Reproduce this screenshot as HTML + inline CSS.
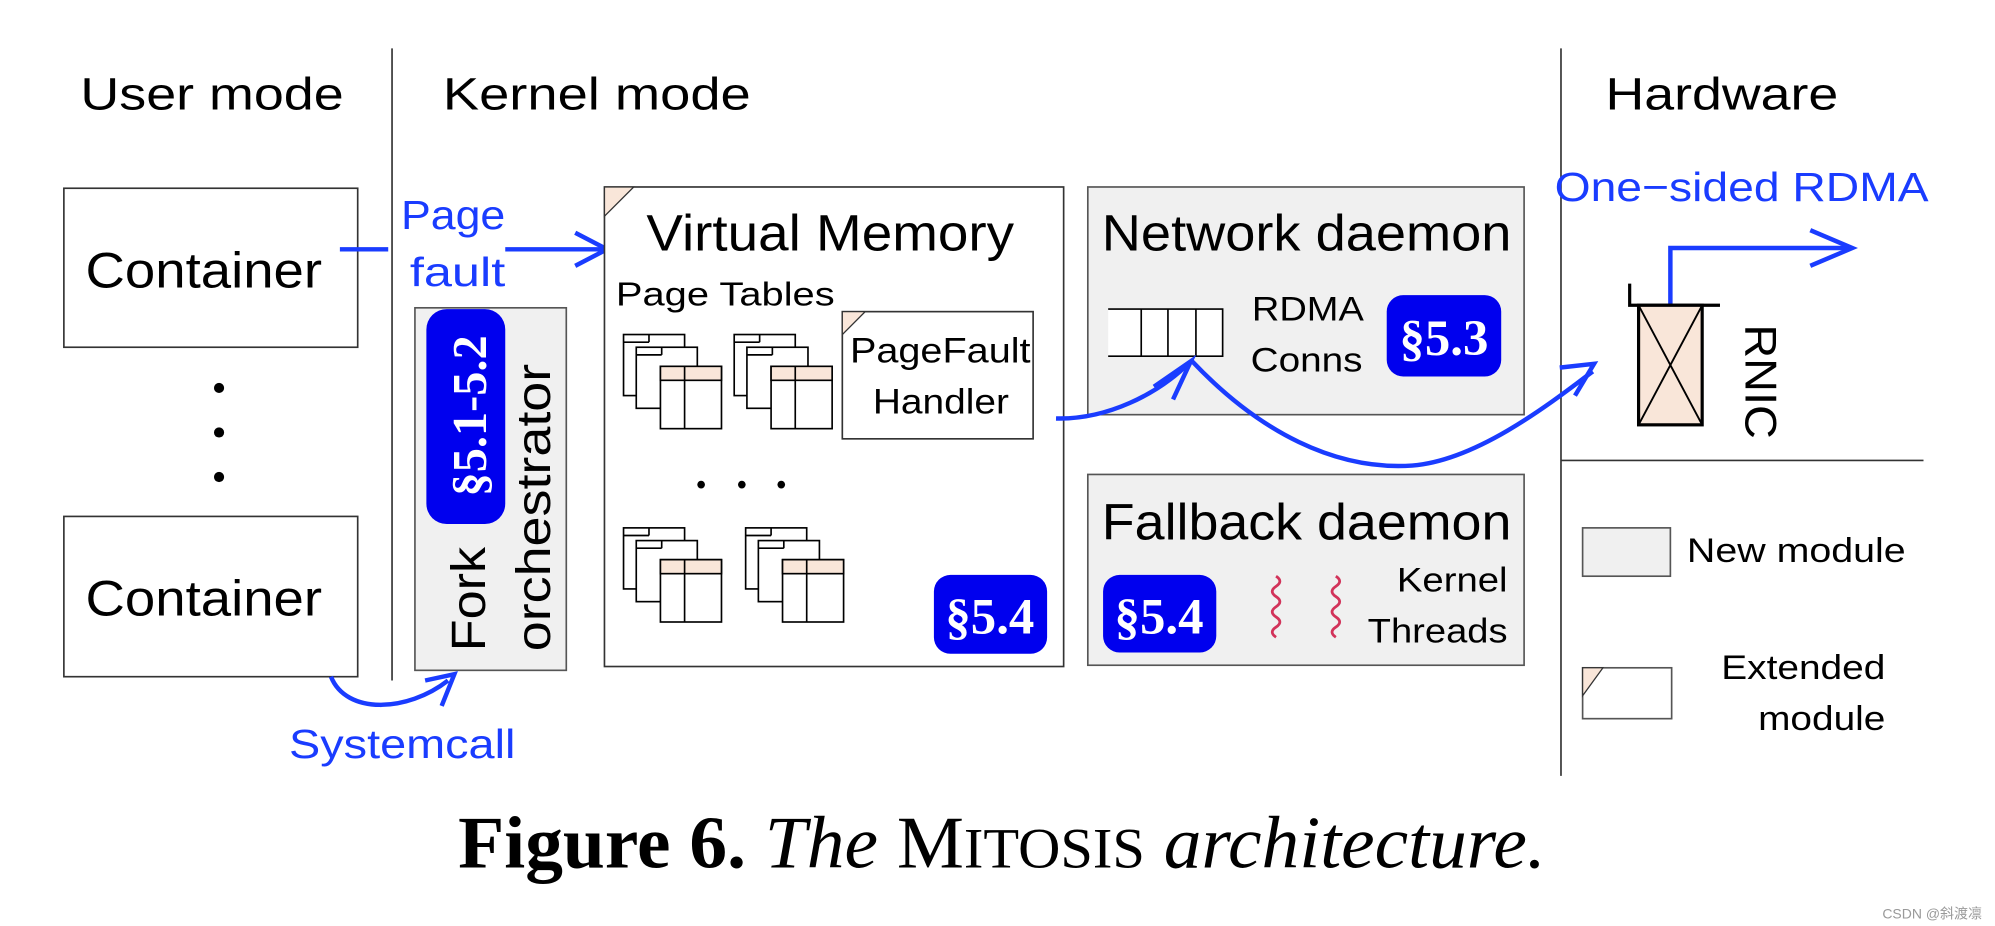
<!DOCTYPE html>
<html><head><meta charset="utf-8"><style>
html,body{margin:0;padding:0;background:#fff;width:1995px;height:926px;overflow:hidden}
svg{display:block}
text{font-family:"Liberation Sans",sans-serif}
.s{font-family:"Liberation Serif",serif;font-weight:bold;fill:#fff}
</style></head><body>
<svg width="1995" height="926" viewBox="0 0 1568 728" xmlns="http://www.w3.org/2000/svg">
<defs>
<g id="pt">
<rect x="0" y="0" width="48" height="48" fill="#fff" stroke="#000" stroke-width="1.3"/>
<line x1="0" y1="6" x2="20" y2="6" stroke="#000" stroke-width="1.3"/><line x1="20" y1="0" x2="20" y2="6" stroke="#000" stroke-width="1.3"/>
<rect x="10" y="10" width="48" height="48" fill="#fff" stroke="#000" stroke-width="1.3"/>
<line x1="10" y1="16" x2="30" y2="16" stroke="#000" stroke-width="1.3"/><line x1="30" y1="10" x2="30" y2="16" stroke="#000" stroke-width="1.3"/>
<rect x="29" y="25" width="48" height="49" fill="#fff" stroke="#000" stroke-width="1.3"/>
<rect x="29" y="25" width="48" height="11" fill="#f9e6d9" stroke="#000" stroke-width="1.3"/>
<line x1="48" y1="25" x2="48" y2="74" stroke="#000" stroke-width="1.3"/>
</g>
</defs>
<line x1="308" y1="38" x2="308" y2="535" stroke="#333" stroke-width="1.3"/>
<line x1="1227" y1="38" x2="1227" y2="610" stroke="#333" stroke-width="1.3"/>
<line x1="1227" y1="362" x2="1512" y2="362" stroke="#333" stroke-width="1.3"/>
<text x="63" y="86" font-size="36" textLength="207" lengthAdjust="spacingAndGlyphs">User mode</text>
<text x="348" y="86" font-size="36" textLength="242" lengthAdjust="spacingAndGlyphs">Kernel mode</text>
<text x="1262" y="86" font-size="36" textLength="183" lengthAdjust="spacingAndGlyphs">Hardware</text>
<rect x="50" y="148" width="231" height="125" fill="#fff" stroke="#333" stroke-width="1.3"/>
<rect x="50" y="406" width="231" height="126" fill="#fff" stroke="#333" stroke-width="1.3"/>
<text x="67" y="226" font-size="39" textLength="186" lengthAdjust="spacingAndGlyphs">Container</text>
<text x="67" y="484" font-size="39" textLength="186" lengthAdjust="spacingAndGlyphs">Container</text>
<circle cx="172" cy="305" r="4"/><circle cx="172" cy="340" r="4"/><circle cx="172" cy="375" r="4"/>
<text x="315" y="180" font-size="32" fill="#1a3cff" textLength="82" lengthAdjust="spacingAndGlyphs">Page</text>
<text x="322" y="225" font-size="32" fill="#1a3cff" textLength="75" lengthAdjust="spacingAndGlyphs">fault</text>
<line x1="267" y1="196" x2="305" y2="196" stroke="#1a3cff" stroke-width="3.5"/>
<line x1="397" y1="196" x2="476" y2="196" stroke="#1a3cff" stroke-width="3.5"/>
<polyline points="452,183 477,196 452,209" fill="none" stroke="#1a3cff" stroke-width="3.5"/>
<rect x="326" y="242" width="119" height="285" fill="#f0f0f0" stroke="#555" stroke-width="1.3"/>
<rect x="335" y="243" width="62" height="169" rx="16" fill="#0000ee"/>
<text class="s" font-size="38" transform="translate(382,327) rotate(-90)" text-anchor="middle">§5.1-5.2</text>
<text font-size="38" transform="translate(381,512) rotate(-90)" textLength="82" lengthAdjust="spacingAndGlyphs">Fork</text>
<text font-size="38" transform="translate(432,512) rotate(-90)" textLength="226" lengthAdjust="spacingAndGlyphs">orchestrator</text>
<path d="M260,532 C272,562 320,560 352,535" fill="none" stroke="#1a3cff" stroke-width="3.5"/>
<polyline points="334,535 357,530 347,555" fill="none" stroke="#1a3cff" stroke-width="3.5"/>
<text x="227" y="596" font-size="32" fill="#1a3cff" textLength="178" lengthAdjust="spacingAndGlyphs">Systemcall</text>
<rect x="475" y="147" width="361" height="377" fill="#fff" stroke="#333" stroke-width="1.3"/>
<polygon points="475,147 498,147 475,170" fill="#f9e6d9" stroke="#333" stroke-width="1"/>
<text x="508" y="197" font-size="40" textLength="289" lengthAdjust="spacingAndGlyphs">Virtual Memory</text>
<text x="484" y="240" font-size="26" textLength="172" lengthAdjust="spacingAndGlyphs">Page Tables</text>
<use href="#pt" x="490" y="263"/>
<use href="#pt" x="577" y="263"/>
<use href="#pt" x="490" y="415"/>
<use href="#pt" x="586" y="415"/>
<circle cx="551" cy="381" r="3"/><circle cx="583" cy="381" r="3"/><circle cx="614" cy="381" r="3"/>
<rect x="662" y="245" width="150" height="100" fill="#fff" stroke="#333" stroke-width="1.3"/>
<polygon points="662,245 680,245 662,263" fill="#f9e6d9" stroke="#333" stroke-width="1"/>
<text x="668" y="285" font-size="28" textLength="142" lengthAdjust="spacingAndGlyphs">PageFault</text>
<text x="686" y="325" font-size="28" textLength="107" lengthAdjust="spacingAndGlyphs">Handler</text>
<rect x="734" y="452" width="89" height="62" rx="13" fill="#0000ee"/>
<text class="s" x="778" y="498" font-size="40" text-anchor="middle">§5.4</text>
<rect x="855" y="147" width="343" height="179" fill="#f0f0f0" stroke="#555" stroke-width="1.3"/>
<text x="866" y="197" font-size="40" textLength="322" lengthAdjust="spacingAndGlyphs">Network daemon</text>
<rect x="871" y="243" width="90" height="37" fill="#fff"/>
<path d="M871,243 H961 V280 H871 M897,243 V280 M918,243 V280 M940,243 V280" fill="none" stroke="#000" stroke-width="1.3"/>
<text x="984" y="252" font-size="27" textLength="88" lengthAdjust="spacingAndGlyphs">RDMA</text>
<text x="983" y="292" font-size="27" textLength="88" lengthAdjust="spacingAndGlyphs">Conns</text>
<rect x="1090" y="232" width="90" height="64" rx="13" fill="#0000ee"/>
<text class="s" x="1135" y="279" font-size="40" text-anchor="middle">§5.3</text>
<rect x="855" y="373" width="343" height="150" fill="#f0f0f0" stroke="#555" stroke-width="1.3"/>
<text x="866" y="424" font-size="40" textLength="322" lengthAdjust="spacingAndGlyphs">Fallback daemon</text>
<rect x="867" y="452" width="89" height="61" rx="13" fill="#0000ee"/>
<text class="s" x="911" y="498" font-size="40" text-anchor="middle">§5.4</text>
<path d="M1003,453 q6,4 0,8 q-6,4 0,8 q6,4 0,8 q-6,4 0,8 q6,4 0,8 q-6,4 0,8" fill="none" stroke="#d2335a" stroke-width="2.2"/>
<path d="M1050,453 q6,4 0,8 q-6,4 0,8 q6,4 0,8 q-6,4 0,8 q6,4 0,8 q-6,4 0,8" fill="none" stroke="#d2335a" stroke-width="2.2"/>
<text x="1098" y="465" font-size="27" textLength="87" lengthAdjust="spacingAndGlyphs">Kernel</text>
<text x="1075" y="505" font-size="27" textLength="110" lengthAdjust="spacingAndGlyphs">Threads</text>
<path d="M830,329 C870,330 910,310 935,285" fill="none" stroke="#1a3cff" stroke-width="3.5"/>
<polyline points="907,304 936,284 922,314" fill="none" stroke="#1a3cff" stroke-width="3.5"/>
<path d="M937,284 C990,340 1050,370 1110,366 C1160,362 1215,320 1252,292" fill="none" stroke="#1a3cff" stroke-width="3.5"/>
<polyline points="1226,289 1253,286 1238,311" fill="none" stroke="#1a3cff" stroke-width="3.5"/>
<text x="1222" y="158" font-size="32" fill="#1a3cff" textLength="294" lengthAdjust="spacingAndGlyphs">One−sided RDMA</text>
<polyline points="1313,240 1313,195 1455,195" fill="none" stroke="#1a3cff" stroke-width="3.5"/>
<polyline points="1423,181 1456,195 1423,209" fill="none" stroke="#1a3cff" stroke-width="3.5"/>
<polyline points="1281,223 1281,240 1352,240" fill="none" stroke="#000" stroke-width="2.5"/>
<rect x="1288" y="240" width="50" height="94" fill="#f9e6d9" stroke="#000" stroke-width="2.5"/>
<path d="M1288,240 L1338,334 M1338,240 L1288,334" stroke="#000" stroke-width="1.5"/>
<text font-size="35" transform="translate(1372,300) rotate(90)" text-anchor="middle" textLength="90" lengthAdjust="spacingAndGlyphs">RNIC</text>
<rect x="1244" y="415" width="69" height="38" fill="#f0f0f0" stroke="#555" stroke-width="1.3"/>
<text x="1326" y="442" font-size="27" textLength="172" lengthAdjust="spacingAndGlyphs">New module</text>
<rect x="1244" y="525" width="70" height="40" fill="#fff" stroke="#555" stroke-width="1.3"/>
<polygon points="1244,525 1260,525 1244,547" fill="#f9e6d9" stroke="#333" stroke-width="1"/>
<text x="1353" y="534" font-size="27" textLength="129" lengthAdjust="spacingAndGlyphs">Extended</text>
<text x="1382" y="574" font-size="27" textLength="100" lengthAdjust="spacingAndGlyphs">module</text>
<text x="360" y="682" font-size="58" textLength="855" lengthAdjust="spacingAndGlyphs" style="font-family:'Liberation Serif',serif;font-weight:bold">Figure 6.<tspan font-weight="normal" font-style="italic"> The </tspan><tspan font-weight="normal">M<tspan font-size="45">ITOSIS</tspan></tspan><tspan font-weight="normal" font-style="italic"> architecture.</tspan></text>
<text x="1558" y="722" font-size="11" fill="#999" text-anchor="end" style="font-family:'Liberation Sans','Noto Sans CJK SC',sans-serif">CSDN @斜渡凛</text>
</svg>
</body></html>
